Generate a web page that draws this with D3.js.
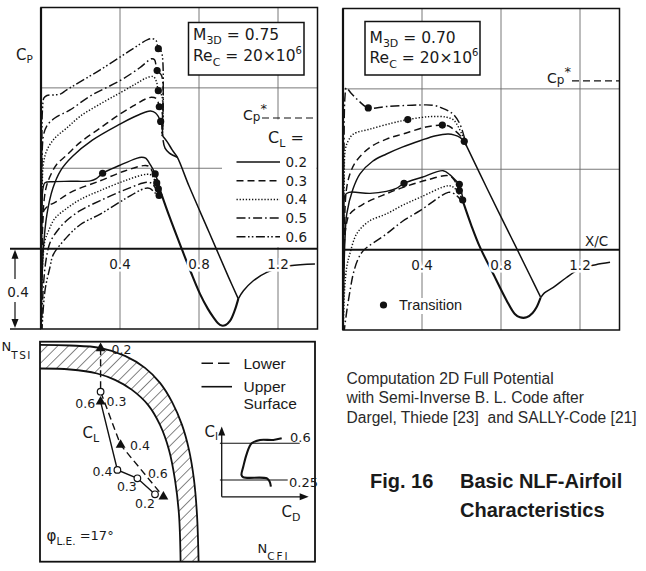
<!DOCTYPE html>
<html>
<head>
<meta charset="utf-8">
<script src="https://cdn.jsdelivr.net/npm/d3@7"></script>
<style>
  body { margin: 0; background: #fff; }
  svg { display: block; }
  text { fill: #1a1a1a; }
  .tech { font-family: "DejaVu Sans", sans-serif; }
  .sans { font-family: "Liberation Sans", Arial, sans-serif; white-space: pre; }
</style>
</head>
<body>
<script>
// ---------- data: Cp distributions (x/c, Cp) ----------
const xcTicks = [0.4, 0.8, 1.2];
const cpGrid = [-0.8, -0.4];
const clLevels = ['0.2', '0.3', '0.4', '0.5', '0.6'];

// M3D = 0.75, upper surface, CL 0.2 .. 0.6
const up75_02 = [[0,0.42],[0.004,0.2],[0.012,0.0],[0.03,-0.17],[0.06,-0.3],[0.1,-0.39],[0.16,-0.46],[0.26,-0.54],[0.4,-0.62],[0.47,-0.655],[0.53,-0.68],[0.555,-0.685],[0.58,-0.675],[0.606,-0.633],[0.614,-0.6],[0.616,-0.56]];
const up75_03 = [[0,0.42],[0.003,0.1],[0.008,-0.1],[0.012,-0.2],[0.025,-0.3],[0.046,-0.36],[0.08,-0.42],[0.13,-0.465],[0.2,-0.53],[0.3,-0.6],[0.4,-0.67],[0.467,-0.71],[0.53,-0.745],[0.56,-0.753],[0.586,-0.745],[0.599,-0.706],[0.613,-0.68],[0.615,-0.56]];
const up75_04 = [[0,0.42],[0.002,0],[0.006,-0.3],[0.012,-0.42],[0.03,-0.49],[0.07,-0.55],[0.13,-0.6],[0.2,-0.66],[0.3,-0.72],[0.4,-0.775],[0.48,-0.82],[0.535,-0.85],[0.569,-0.856],[0.585,-0.83],[0.594,-0.786],[0.612,-0.76],[0.614,-0.56]];
const up75_05 = [[0,0.42],[0.002,0],[0.005,-0.4],[0.012,-0.56],[0.029,-0.61],[0.07,-0.65],[0.147,-0.69],[0.25,-0.76],[0.4,-0.836],[0.5,-0.9],[0.56,-0.945],[0.575,-0.94],[0.588,-0.886],[0.611,-0.86],[0.613,-0.56]];
const up75_06 = [[0,0.42],[0.002,0],[0.004,-0.5],[0.008,-0.7],[0.015,-0.75],[0.03,-0.762],[0.07,-0.765],[0.1,-0.77],[0.13,-0.79],[0.3,-0.89],[0.45,-0.985],[0.54,-1.04],[0.565,-1.045],[0.583,-1.035],[0.594,-0.995],[0.61,-0.98],[0.612,-0.56]];
// M3D = 0.75, lower surface
const lo75_02 = [[0,0.42],[0.002,0.1],[0.005,-0.2],[0.01,-0.3],[0.02,-0.328],[0.06,-0.333],[0.15,-0.335],[0.25,-0.337],[0.28,-0.348],[0.312,-0.375],[0.4,-0.415],[0.48,-0.448],[0.51,-0.455],[0.53,-0.45],[0.555,-0.415],[0.578,-0.372],[0.612,-0.265]];
const lo75_03 = [[0,0.42],[0.002,0.2],[0.005,0],[0.009,-0.15],[0.015,-0.19],[0.04,-0.215],[0.071,-0.23],[0.15,-0.28],[0.3,-0.338],[0.42,-0.385],[0.518,-0.413],[0.545,-0.41],[0.57,-0.37],[0.586,-0.327],[0.612,-0.265]];
const lo75_04 = [[0.001,0.42],[0.004,0.2],[0.01,0.05],[0.02,-0.04],[0.037,-0.085],[0.07,-0.15],[0.13,-0.2],[0.2,-0.245],[0.3,-0.289],[0.43,-0.34],[0.535,-0.37],[0.56,-0.365],[0.58,-0.33],[0.594,-0.297],[0.612,-0.265]];
const lo75_05 = [[0.002,0.42],[0.01,0.22],[0.025,0.06],[0.046,-0.03],[0.08,-0.085],[0.13,-0.14],[0.2,-0.19],[0.3,-0.239],[0.43,-0.295],[0.535,-0.33],[0.56,-0.325],[0.58,-0.3],[0.598,-0.272],[0.612,-0.262]];
const lo75_06 = [[0.004,0.42],[0.02,0.21],[0.046,0.09],[0.062,0.03],[0.13,-0.056],[0.2,-0.12],[0.3,-0.172],[0.43,-0.25],[0.527,-0.3],[0.55,-0.3],[0.575,-0.28],[0.598,-0.258],[0.612,-0.26]];
const upRec75 = [[0.616,-0.56],[0.64,-0.53],[0.665,-0.49],[0.69,-0.455],[0.75,-0.31],[0.85,-0.084],[0.95,0.143],[0.999,0.25]];
const lens75 = [[0.618,-0.54],[0.628,-0.5],[0.65,-0.475],[0.69,-0.455]];
const loRec75 = [[0.612,-0.265],[0.65,-0.16],[0.712,0.0],[0.76,0.12],[0.805,0.225],[0.845,0.3],[0.873,0.342],[0.895,0.37],[0.915,0.383],[0.935,0.38],[0.957,0.36],[0.98,0.31],[0.999,0.25]];
const wake75 = [[0.999,0.25],[1.025,0.21],[1.075,0.16],[1.143,0.118],[1.26,0.085],[1.387,0.076]];
const trans75 = [[0.594,-0.995],[0.588,-0.886],[0.594,-0.786],[0.599,-0.706],[0.606,-0.633],[0.312,-0.375],[0.578,-0.372],[0.586,-0.327],[0.594,-0.297],[0.598,-0.265]];
const cpStar75 = -0.65;

// M3D = 0.70, upper surface, CL 0.2 .. 0.5
const up70_02 = [[0,0.42],[0.004,0.15],[0.01,-0.05],[0.019,-0.178],[0.05,-0.3],[0.086,-0.377],[0.15,-0.44],[0.22,-0.476],[0.3,-0.51],[0.39,-0.542],[0.47,-0.567],[0.533,-0.575],[0.565,-0.57],[0.592,-0.559],[0.614,-0.539]];
const up70_03 = [[0,0.42],[0.003,0.1],[0.008,-0.15],[0.019,-0.31],[0.04,-0.39],[0.069,-0.443],[0.137,-0.509],[0.22,-0.55],[0.305,-0.576],[0.42,-0.61],[0.503,-0.62],[0.535,-0.615],[0.558,-0.6],[0.609,-0.55],[0.626,-0.515]];
const up70_04 = [[0,0.42],[0.002,0],[0.006,-0.35],[0.012,-0.5],[0.027,-0.542],[0.052,-0.575],[0.137,-0.6],[0.25,-0.63],[0.328,-0.647],[0.44,-0.662],[0.525,-0.659],[0.56,-0.645],[0.576,-0.625],[0.609,-0.559],[0.626,-0.515]];
const up70_05 = [[0,0.42],[0.002,0],[0.005,-0.5],[0.01,-0.76],[0.017,-0.805],[0.04,-0.78],[0.08,-0.74],[0.128,-0.705],[0.22,-0.712],[0.39,-0.72],[0.46,-0.718],[0.5,-0.705],[0.535,-0.69],[0.56,-0.672],[0.592,-0.625],[0.626,-0.515]];
// M3D = 0.70, lower surface
const lo70_02 = [[0,0.42],[0.002,0.1],[0.005,-0.15],[0.01,-0.27],[0.03,-0.285],[0.137,-0.28],[0.22,-0.29],[0.27,-0.305],[0.309,-0.33],[0.4,-0.36],[0.507,-0.393],[0.542,-0.372],[0.57,-0.345],[0.589,-0.325],[0.609,-0.235]];
const lo70_03 = [[0,0.42],[0.003,0.15],[0.008,-0.05],[0.02,-0.14],[0.035,-0.178],[0.103,-0.227],[0.2,-0.27],[0.305,-0.31],[0.42,-0.345],[0.533,-0.368],[0.56,-0.35],[0.589,-0.294],[0.609,-0.235]];
const lo70_04 = [[0.001,0.42],[0.008,0.2],[0.02,0.08],[0.035,0.02],[0.069,-0.078],[0.13,-0.14],[0.22,-0.178],[0.3,-0.22],[0.39,-0.26],[0.533,-0.318],[0.56,-0.31],[0.585,-0.28],[0.606,-0.247],[0.609,-0.235]];
const lo70_05 = [[0.004,0.42],[0.02,0.3],[0.04,0.18],[0.052,0.12],[0.075,0.05],[0.103,0.005],[0.22,-0.078],[0.3,-0.14],[0.39,-0.194],[0.533,-0.285],[0.56,-0.28],[0.585,-0.26],[0.609,-0.235]];
const upRec70 = [[0.614,-0.539],[0.626,-0.515],[0.73,-0.303],[0.85,-0.064],[0.95,0.135],[1.0,0.235]];
const loRec70 = [[0.609,-0.235],[0.65,-0.12],[0.694,-0.011],[0.761,0.121],[0.829,0.254],[0.87,0.32],[0.896,0.337],[0.93,0.337],[0.96,0.315],[0.98,0.287],[1.0,0.24]];
const wake70 = [[1.0,0.24],[1.02,0.215],[1.065,0.188],[1.13,0.14],[1.2,0.096],[1.28,0.075],[1.352,0.063]];
const trans70 = [[0.128,-0.705],[0.328,-0.647],[0.503,-0.62],[0.614,-0.539],[0.309,-0.33],[0.589,-0.325],[0.589,-0.294],[0.606,-0.247]];
const cpStar70 = -0.84;

// ---------- data: N_TS / N_CF diagram ----------
const bandOuter = [[0,10.84],[1.5,10.81],[3,10.69],[4.25,10.29],[5.25,9.69],[6,8.94],[6.6,7.99],[7.1,6.84],[7.45,5.59],[7.7,4.09],[7.85,2.34],[7.93,0]];
const bandInner = [[0,9.66],[1.5,9.61],[2.85,9.41],[3.75,9.09],[4.6,8.59],[5.4,7.84],[6,6.84],[6.45,5.59],[6.75,4.09],[6.95,2.34],[7.03,0]];
const lowerSurf = [{cl:'0.2', ncf:3.03, nts:10.67}, {cl:'0.3', ncf:3.03, nts:8.5}, {cl:'0.4', ncf:4.03, nts:5.84}, {cl:'0.6', ncf:6.17, nts:3.25}];
const upperSurf = [{cl:'0.6', ncf:3.03, nts:8.0}, {cl:'0.4', ncf:3.87, nts:4.59}, {cl:'0.3', ncf:4.87, nts:4.17}, {cl:'0.2', ncf:5.75, nts:3.37}];
const lowerMarks = ['arrow', 'circle', 'tri', 'tri'];
const upperMarks = ['tri', 'circle', 'circle', 'circle'];

// inset drag polar (CD arbitrary units, Cl)
const dragCd = [1.0, 0.86, 0.64, 0.5, 0.42, 0.36, 0.33, 0.36, 0.75, 0.8, 0.82];
const dragCl = [0.648, 0.632, 0.632, 0.6, 0.505, 0.378, 0.298, 0.276, 0.266, 0.234, 0.186];
const insetClLines = [0.6, 0.25];

const noteLines = ['Computation 2D Full Potential', 'with Semi-Inverse B. L. Code after', 'Dargel, Thiede [23]  and SALLY-Code [21]'];

// ---------- drawing ----------
const dashes = { '0.2': null, '0.3': '7,4', '0.4': '1.3,1.8', '0.5': '9,3,1.6,3', '0.6': '9,2.5,1.6,2.2,1.6,2.5' };

const svg = d3.select('body').append('svg').attr('width', 646).attr('height', 571);
const defs = svg.append('defs');

function rich(g, x, y, size, parts, cls = 'tech') {
  const t = g.append('text').attr('class', cls).attr('x', x).attr('y', y).style('font-size', size + 'px');
  parts.forEach(p => {
    const s = t.append('tspan').text(p.t);
    if (p.s) s.style('font-size', p.s + 'px');
    if (p.dy) s.attr('dy', p.dy);
    if (p.ls) s.attr('letter-spacing', p.ls);
  });
  return t;
}

function cpPanel(p) {
  const x = d3.scaleLinear().domain([0, 1.4]).range(p.xr);
  const y = d3.scaleLinear().domain([-1.2, 0.4]).range(p.yr);
  const line = d3.line().x(d => x(d[0])).y(d => y(d[1])).curve(d3.curveCatmullRom.alpha(0.5));
  const g = svg.append('g');
  const clipId = 'clip-' + p.key;
  defs.append('clipPath').attr('id', clipId).append('rect')
    .attr('x', p.xr[0]).attr('y', p.yr[0]).attr('width', p.xr[1] - p.xr[0]).attr('height', p.yr[1] - p.yr[0]);

  g.selectAll('line.vg').data(xcTicks).join('line').attr('class', 'vg')
    .attr('x1', d => x(d)).attr('x2', d => x(d)).attr('y1', p.yr[0]).attr('y2', p.yr[1])
    .attr('stroke', '#6a6a6a').attr('stroke-width', 0.9);
  g.selectAll('line.hg').data(cpGrid).join('line').attr('class', 'hg')
    .attr('x1', p.xr[0]).attr('x2', p.xr[1]).attr('y1', d => y(d)).attr('y2', d => y(d))
    .attr('stroke', '#6a6a6a').attr('stroke-width', 0.9);

  if (p.legend) {
    g.append('rect').attr('x', 222).attr('y', y(p.cpStar) + 1.5).attr('width', p.xr[1] - 223)
      .attr('height', y(0) - y(p.cpStar) - 3).attr('fill', '#fff');
  }

  // Cp* level
  g.append('line').attr('x1', p.starX[1]).attr('x2', p.xr[1]).attr('y1', y(p.cpStar)).attr('y2', y(p.cpStar))
    .attr('stroke', '#111').attr('stroke-width', 1.2).attr('stroke-dasharray', '7,4');
  rich(g, p.starX[0], y(p.cpStar) + 2, 14, [{ t: 'C' }, { t: 'p', s: 12, dy: 1 }, { t: '*', s: 13, dy: -8 }]);

  const cg = g.append('g').attr('clip-path', `url(#${clipId})`).attr('fill', 'none').attr('stroke', '#111');
  const curves = p.upper.map((c, i) => ({ c, cl: clLevels[i] })).concat(p.lower.map((c, i) => ({ c, cl: clLevels[i] })));
  cg.selectAll('path.cp').data(curves).join('path').attr('class', 'cp')
    .attr('d', d => line(d.c)).attr('stroke-width', 1.45)
    .attr('stroke-dasharray', d => dashes[d.cl]);
  cg.selectAll('path.rec').data([p.upRec, p.loRec, p.wake].concat(p.lens ? [p.lens] : [])).join('path').attr('class', 'rec')
    .attr('d', d => line(d)).attr('stroke-width', (d, i) => i === 1 ? 2.1 : 1.5);
  cg.selectAll('circle.tr').data(p.trans).join('circle').attr('class', 'tr')
    .attr('cx', d => x(d[0])).attr('cy', d => y(d[1])).attr('r', 3.6).attr('fill', '#111').attr('stroke', 'none');

  // Cp = 0 axis
  g.append('line').attr('x1', p.axisX0).attr('x2', p.xr[1]).attr('y1', y(0)).attr('y2', y(0))
    .attr('stroke', '#111').attr('stroke-width', 2);
  g.append('rect').attr('x', p.xr[0]).attr('y', p.yr[0]).attr('width', p.xr[1] - p.xr[0]).attr('height', p.yr[1] - p.yr[0])
    .attr('fill', 'none').attr('stroke', '#111').attr('stroke-width', 1.5);
  g.append('line').attr('x1', p.xr[0]).attr('x2', p.xr[0]).attr('y1', p.yr[0]).attr('y2', p.yr[1])
    .attr('stroke', '#111').attr('stroke-width', 2.2);

  g.selectAll('text.tick').data(xcTicks).join('text').attr('class', 'tick tech')
    .attr('x', d => x(d)).attr('y', y(0) + 20).attr('text-anchor', 'middle')
    .style('font-size', '13.5px').attr('stroke', '#fff').attr('stroke-width', 5).attr('paint-order', 'stroke')
    .text(d => d3.format('.1f')(d));

  // Mach / Reynolds box
  const bx = p.box;
  g.append('rect').attr('x', bx[0]).attr('y', bx[1]).attr('width', bx[2]).attr('height', bx[3])
    .attr('fill', '#fff').attr('stroke', '#111').attr('stroke-width', 1.5);
  rich(g, bx[0] + 4.5, bx[1] + p.boxBase[0], 15.5, [{ t: 'M' }, { t: '3D', s: 11, dy: 4 }, { t: ' = ' + p.mach, dy: -4 }]);
  rich(g, bx[0] + 4.5, bx[1] + p.boxBase[1], 15.5, [{ t: 'Re' }, { t: 'C', s: 11, dy: 5 }, { t: ' = 20×10', dy: -5 }, { t: '6', s: 10, dy: -7 }]);

  return { x, y, g };
}

// left panel M3D = 0.75
const left = cpPanel({
  key: 'm75', xr: [41, 317.5], yr: [7.5, 329], axisX0: 10,
  upper: [up75_02, up75_03, up75_04, up75_05, up75_06],
  lower: [lo75_02, lo75_03, lo75_04, lo75_05, lo75_06],
  upRec: upRec75, loRec: loRec75, wake: wake75, lens: lens75, trans: trans75,
  cpStar: cpStar75, starX: [243, 262], legend: true,
  box: [188.5, 22.5, 115.5, 52.5], boxBase: [17, 38], mach: '0.75'
});

// right panel M3D = 0.70
const right = cpPanel({
  key: 'm70', xr: [343, 619.5], yr: [8.5, 330], axisX0: 343,
  upper: [up70_02, up70_03, up70_04, up70_05],
  lower: [lo70_02, lo70_03, lo70_04, lo70_05],
  upRec: upRec70, loRec: loRec70, wake: wake70, trans: trans70,
  cpStar: cpStar70, starX: [547, 572], legend: false,
  box: [365, 21.5, 115, 53.5], boxBase: [21, 41.5], mach: '0.70'
});

// left panel extras: Cp label, CL legend, 0.4 scale bracket
rich(left.g, 16, 60, 15, [{ t: 'C' }, { t: 'P', s: 10.5, dy: 3 }]);
rich(left.g, 268, 143, 16, [{ t: 'C' }, { t: 'L', s: 11, dy: 4 }, { t: ' =', dy: -4 }]);
const lg = left.g.append('g');
clLevels.forEach((cl, i) => {
  const yy = 162 + i * 18.7;
  lg.append('line').attr('x1', 236.5).attr('x2', 280).attr('y1', yy).attr('y2', yy)
    .attr('stroke', '#111').attr('stroke-width', 1.5).attr('stroke-dasharray', dashes[cl]);
  lg.append('text').attr('class', 'tech').attr('x', 285.5).attr('y', yy + 5).style('font-size', '13.5px').text(cl);
});
left.g.append('line').attr('x1', 10).attr('x2', 41).attr('y1', left.y(0.4)).attr('y2', left.y(0.4))
  .attr('stroke', '#111').attr('stroke-width', 1.5);
const bx = 15;
left.g.append('line').attr('x1', bx).attr('x2', bx).attr('y1', left.y(0) + 4).attr('y2', 279).attr('stroke', '#111').attr('stroke-width', 1.2);
left.g.append('line').attr('x1', bx).attr('x2', bx).attr('y1', 302).attr('y2', left.y(0.4) - 4).attr('stroke', '#111').attr('stroke-width', 1.2);
left.g.append('path').attr('d', `M${bx},${left.y(0) + 1}l-3.5,9h7z`).attr('fill', '#111');
left.g.append('path').attr('d', `M${bx},${left.y(0.4) - 1}l-3.5,-9h7z`).attr('fill', '#111');
left.g.append('text').attr('class', 'tech').attr('x', 18).attr('y', 297).attr('text-anchor', 'middle')
  .style('font-size', '13.5px').text('0.4');

// right panel extras
right.g.append('text').attr('class', 'tech').attr('x', 585).attr('y', 246).style('font-size', '13.5px').text('X/C');
right.g.append('circle').attr('cx', 383.5).attr('cy', 305).attr('r', 3.6).attr('fill', '#111');
right.g.append('text').attr('class', 'sans').attr('x', 399).attr('y', 310).style('font-size', '14.5px')
  .attr('stroke', '#fff').attr('stroke-width', 8).attr('paint-order', 'stroke').text('Transition');

// ---------- N_TS vs N_CF panel ----------
const nx = d3.scaleLinear().domain([0, 13.75]).range([40, 315]);
const ny = d3.scaleLinear().domain([0, 11]).range([561.7, 341.7]);
const nLine = d3.line().x(d => nx(d[0])).y(d => ny(d[1])).curve(d3.curveCatmullRom.alpha(0.5));
const bg = svg.append('g');

defs.append('pattern').attr('id', 'hatch').attr('patternUnits', 'userSpaceOnUse')
  .attr('width', 7.5).attr('height', 7.5).attr('patternTransform', 'rotate(45)')
  .append('line').attr('x1', 0).attr('y1', 0).attr('x2', 0).attr('y2', 7.5).attr('stroke', '#222').attr('stroke-width', 1.1);
defs.append('clipPath').attr('id', 'clip-n').append('rect').attr('x', 40).attr('y', 341.7).attr('width', 275).attr('height', 220);

const outerD = nLine(bandOuter);
const innerD = nLine(bandInner.slice().reverse());
const bandG = bg.append('g').attr('clip-path', 'url(#clip-n)');
bandG.append('path').attr('d', outerD + 'L' + innerD.slice(1) + 'Z').attr('fill', 'url(#hatch)');
bandG.selectAll('path.edge').data([bandOuter, bandInner]).join('path').attr('class', 'edge')
  .attr('d', d => nLine(d)).attr('fill', 'none').attr('stroke', '#111').attr('stroke-width', 1.8);

bg.append('rect').attr('x', 40).attr('y', 341.7).attr('width', 275).attr('height', 220)
  .attr('fill', 'none').attr('stroke', '#111').attr('stroke-width', 1.8);

const straight = d3.line().x(d => nx(d.ncf)).y(d => ny(d.nts));
bg.append('path').attr('d', straight(lowerSurf)).attr('fill', 'none').attr('stroke', '#111')
  .attr('stroke-width', 1.4).attr('stroke-dasharray', '7,4');
bg.append('path').attr('d', straight(upperSurf)).attr('fill', 'none').attr('stroke', '#111').attr('stroke-width', 1.4);

const tri = d3.symbol(d3.symbolTriangle).size(42)();
function marks(data, kinds) {
  data.forEach((d, i) => {
    const px = nx(d.ncf), py = ny(d.nts);
    if (kinds[i] === 'circle') {
      bg.append('circle').attr('cx', px).attr('cy', py).attr('r', 3.3).attr('fill', '#fff').attr('stroke', '#111').attr('stroke-width', 1.2);
    } else {
      bg.append('path').attr('d', tri).attr('transform', `translate(${px},${py})`).attr('fill', '#111');
    }
  });
}
marks(lowerSurf, lowerMarks);
marks(upperSurf, upperMarks);

const lowerLab = [[11, 6, 'start'], [6, 14.5, 'start'], [9.5, 5, 'start'], [-15.5, -18.5, 'start']];
const upperLab = [[-5.5, 6.5, 'end'], [-5, 6, 'end'], [-20.5, 13, 'start'], [-20, 14, 'start']];
[[lowerSurf, lowerLab], [upperSurf, upperLab]].forEach(([data, lab]) => {
  bg.selectAll(null).data(data).join('text').attr('class', 'tech')
    .attr('x', (d, i) => nx(d.ncf) + lab[i][0]).attr('y', (d, i) => ny(d.nts) + lab[i][1])
    .attr('text-anchor', (d, i) => lab[i][2]).style('font-size', '12.5px')
    .text(d => d.cl);
});

rich(bg, 82.5, 438, 15, [{ t: 'C' }, { t: 'L', s: 11, dy: 4 }]);
rich(bg, 1.5, 351, 13, [{ t: 'N' }, { t: 'TSI', s: 10.5, dy: 8, ls: 1.5 }]);
rich(bg, 257.5, 552.5, 13, [{ t: 'N' }, { t: 'CFI', s: 10.5, dy: 7, ls: 2 }]);
rich(bg, 46.5, 541, 15, [{ t: 'φ' }, { t: 'L.E.', s: 10.5, dy: 4 }, { t: ' =17°', s: 13, dy: -5 }]).style('white-space', 'pre');

// legend Lower / Upper Surface
bg.append('line').attr('x1', 201.5).attr('x2', 232).attr('y1', 363.3).attr('y2', 363.3)
  .attr('stroke', '#111').attr('stroke-width', 1.6).attr('stroke-dasharray', '11.5,5');
bg.append('line').attr('x1', 201.5).attr('x2', 232).attr('y1', 386.7).attr('y2', 386.7)
  .attr('stroke', '#111').attr('stroke-width', 1.6);
bg.selectAll('text.leg').data(['Lower', 'Upper', 'Surface']).join('text').attr('class', 'leg sans')
  .attr('x', 243.5).attr('y', (d, i) => [368.5, 391.5, 408.5][i]).style('font-size', '15.5px').text(d => d);

// inset: Cl vs CD
const ix = d3.scaleLinear().domain([0, 1]).range([221.7, 281.7]);
const iy = d3.scaleLinear().domain([0.25, 0.6]).range([480, 443.3]);
const ig = svg.append('g');
const axY = iy(0.09), axTop = iy(0.76);
ig.append('line').attr('x1', ix(0)).attr('x2', ix(0)).attr('y1', axY).attr('y2', axTop + 6).attr('stroke', '#111').attr('stroke-width', 1.3);
ig.append('path').attr('d', `M${ix(0)},${axTop}l-3.5,9h7z`).attr('fill', '#111');
ig.append('line').attr('x1', ix(0)).attr('x2', ix(1.38)).attr('y1', axY).attr('y2', axY).attr('stroke', '#111').attr('stroke-width', 1.3);
ig.append('path').attr('d', `M${ix(1.45)},${axY}l-9,-3.5v7z`).attr('fill', '#111');
ig.selectAll('line.ref').data(insetClLines).join('line').attr('class', 'ref')
  .attr('x1', ix(-0.03)).attr('x2', (d, i) => ix(i === 0 ? 1.3 : 1.1)).attr('y1', d => iy(d)).attr('y2', d => iy(d))
  .attr('stroke', '#111').attr('stroke-width', 1.1);
ig.selectAll('text.ref').data(insetClLines).join('text').attr('class', 'ref tech')
  .attr('x', (d, i) => i === 0 ? 290 : 289).attr('y', (d, i) => iy(d) + (i === 0 ? -1 : 7))
  .style('font-size', '13px').text(d => String(d));
const dragLine = d3.line().x(d => ix(d[0])).y(d => iy(d[1])).curve(d3.curveCatmullRom.alpha(0.5));
ig.append('path').attr('d', dragLine(dragCd.map((c, i) => [c, dragCl[i]]))).attr('fill', 'none')
  .attr('stroke', '#111').attr('stroke-width', 2.1);
rich(ig, 204.5, 437, 15, [{ t: 'C' }, { t: 'l', s: 11, dy: 3 }]);
rich(ig, 281.5, 517, 15, [{ t: 'C' }, { t: 'D', s: 11, dy: 4 }]);

// ---------- caption text ----------
const tg = svg.append('g');
tg.selectAll('text.note').data(noteLines).join('text').attr('class', 'note sans')
  .attr('x', 346.5).attr('y', (d, i) => 383.5 + i * 19.5).style('font-size', '15.6px').style('fill', '#2a2a2a').text(d => d);
tg.append('text').attr('class', 'sans').attr('x', 370).attr('y', 488).style('font-size', '20px').style('font-weight', 'bold').text('Fig. 16');
tg.append('text').attr('class', 'sans').attr('x', 460).attr('y', 488).style('font-size', '20px').style('font-weight', 'bold').text('Basic NLF-Airfoil');
tg.append('text').attr('class', 'sans').attr('x', 460).attr('y', 517).style('font-size', '20px').style('font-weight', 'bold').text('Characteristics');
</script>
</body>
</html>
